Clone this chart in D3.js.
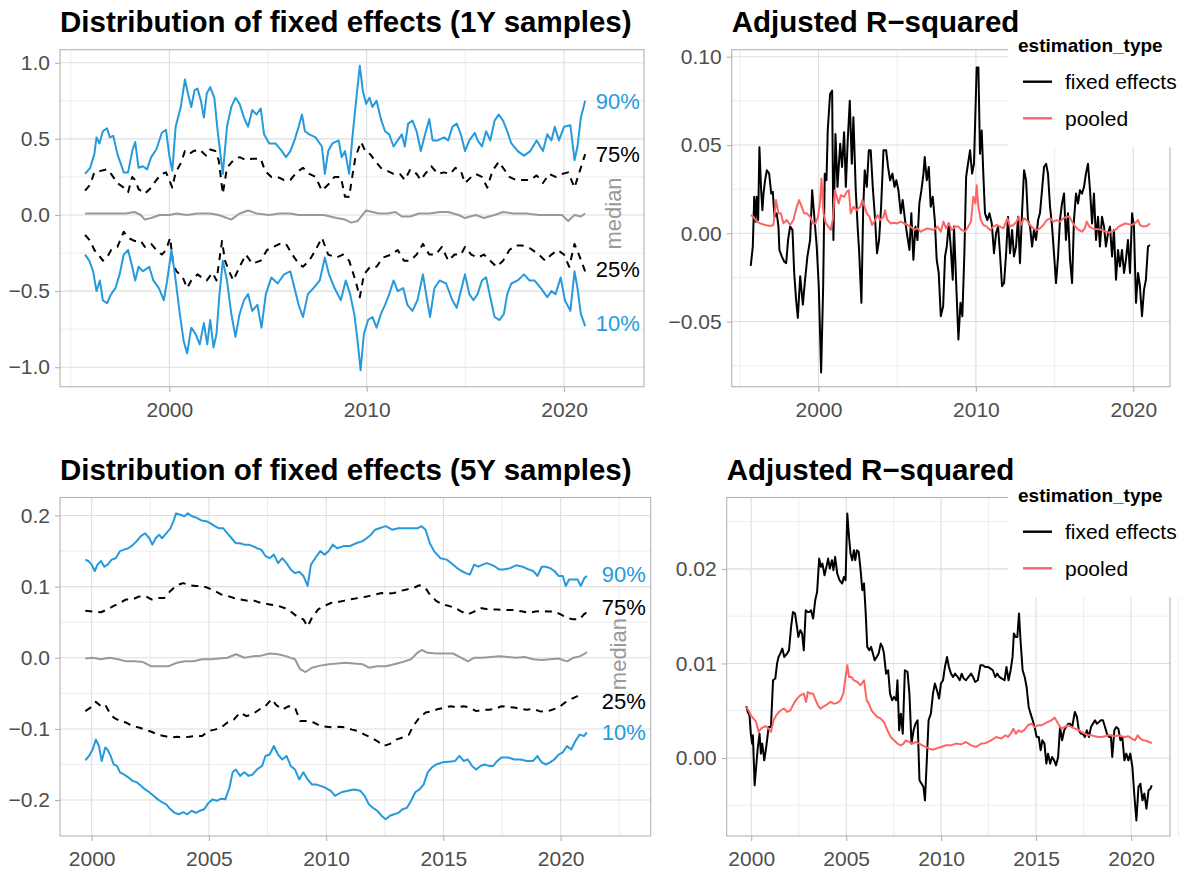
<!DOCTYPE html>
<html>
<head>
<meta charset="utf-8">
<script src="https://cdn.jsdelivr.net/npm/d3@7"></script>
<style>
  html, body { margin: 0; padding: 0; background: #ffffff; overflow: hidden; }
</style>
</head>
<body>
<script>
// ---------------- DATA ----------------
// Panel A: distribution of fixed effects, 1Y samples  [decimal year, value]
const fe1y_q90 = [[1995.73,0.27],[1995.99,0.31],[1996.20,0.40],[1996.31,0.51],[1996.46,0.47],[1996.63,0.55],[1996.84,0.57],[1996.99,0.51],[1997.16,0.52],[1997.37,0.40],[1997.69,0.28],[1997.91,0.28],[1998.12,0.42],[1998.27,0.48],[1998.44,0.31],[1998.66,0.32],[1998.87,0.30],[1999.08,0.38],[1999.34,0.43],[1999.62,0.54],[1999.83,0.56],[2000.00,0.39],[2000.15,0.29],[2000.32,0.58],[2000.58,0.71],[2000.79,0.89],[2000.94,0.80],[2001.11,0.71],[2001.28,0.82],[2001.43,0.83],[2001.60,0.75],[2001.75,0.64],[2001.90,0.80],[2002.07,0.84],[2002.28,0.77],[2002.45,0.55],[2002.71,0.27],[2002.92,0.58],[2003.14,0.71],[2003.35,0.77],[2003.56,0.73],[2003.78,0.64],[2003.99,0.58],[2004.20,0.69],[2004.42,0.66],[2004.63,0.70],[2004.80,0.53],[2005.06,0.47],[2005.38,0.47],[2005.70,0.42],[2005.91,0.38],[2006.13,0.42],[2006.34,0.49],[2006.55,0.58],[2006.72,0.66],[2006.87,0.55],[2007.09,0.53],[2007.41,0.51],[2007.73,0.45],[2007.88,0.27],[2008.05,0.42],[2008.26,0.47],[2008.58,0.49],[2008.73,0.38],[2008.90,0.42],[2009.11,0.27],[2009.29,0.53],[2009.43,0.71],[2009.65,0.98],[2009.80,0.82],[2009.97,0.73],[2010.14,0.77],[2010.29,0.71],[2010.50,0.75],[2010.72,0.63],[2010.93,0.55],[2011.14,0.53],[2011.36,0.45],[2011.57,0.49],[2011.78,0.53],[2011.93,0.45],[2012.10,0.60],[2012.32,0.62],[2012.53,0.55],[2012.74,0.42],[2012.96,0.53],[2013.17,0.63],[2013.34,0.49],[2013.60,0.49],[2013.92,0.51],[2014.13,0.49],[2014.34,0.58],[2014.56,0.60],[2014.77,0.53],[2014.98,0.42],[2015.20,0.49],[2015.48,0.54],[2015.62,0.49],[2015.84,0.45],[2016.05,0.55],[2016.26,0.49],[2016.48,0.62],[2016.69,0.66],[2016.91,0.62],[2017.12,0.55],[2017.33,0.47],[2017.65,0.42],[2017.97,0.39],[2018.29,0.42],[2018.61,0.49],[2018.93,0.42],[2019.15,0.53],[2019.36,0.49],[2019.53,0.58],[2019.74,0.49],[2020.00,0.58],[2020.32,0.59],[2020.53,0.36],[2020.68,0.45],[2020.85,0.64],[2021.07,0.75]];
const fe1y_q75 = [[1995.73,0.16],[1995.99,0.20],[1996.20,0.28],[1996.52,0.29],[1996.84,0.30],[1997.05,0.27],[1997.37,0.21],[1997.69,0.18],[1997.91,0.15],[1998.12,0.25],[1998.27,0.23],[1998.44,0.17],[1998.76,0.14],[1999.08,0.18],[1999.34,0.23],[1999.62,0.27],[1999.83,0.28],[2000.00,0.23],[2000.15,0.18],[2000.32,0.28],[2000.58,0.34],[2000.79,0.42],[2001.00,0.40],[2001.22,0.42],[2001.54,0.43],[2001.86,0.39],[2002.07,0.43],[2002.33,0.42],[2002.50,0.36],[2002.71,0.14],[2002.92,0.31],[2003.24,0.36],[2003.56,0.38],[2003.88,0.36],[2004.20,0.37],[2004.63,0.37],[2004.85,0.29],[2005.17,0.25],[2005.49,0.25],[2005.81,0.23],[2006.13,0.23],[2006.45,0.28],[2006.77,0.31],[2007.09,0.27],[2007.41,0.25],[2007.73,0.16],[2008.05,0.20],[2008.37,0.25],[2008.69,0.25],[2008.90,0.12],[2009.11,0.12],[2009.29,0.27],[2009.43,0.38],[2009.71,0.48],[2009.97,0.41],[2010.18,0.40],[2010.40,0.36],[2010.72,0.31],[2011.04,0.29],[2011.36,0.27],[2011.68,0.27],[2011.93,0.23],[2012.21,0.30],[2012.53,0.27],[2012.74,0.23],[2012.96,0.27],[2013.28,0.32],[2013.60,0.27],[2013.92,0.28],[2014.24,0.27],[2014.49,0.31],[2014.77,0.29],[2014.98,0.21],[2015.30,0.25],[2015.52,0.27],[2015.84,0.25],[2016.11,0.18],[2016.37,0.29],[2016.69,0.35],[2016.91,0.31],[2017.23,0.25],[2017.55,0.23],[2017.97,0.23],[2018.29,0.23],[2018.61,0.26],[2018.93,0.21],[2019.25,0.27],[2019.57,0.25],[2019.89,0.27],[2020.21,0.28],[2020.53,0.18],[2020.75,0.27],[2021.07,0.40]];
const fe1y_med = [[1995.73,0.01],[1996.31,0.01],[1996.95,0.01],[1997.37,0.01],[1997.80,0.01],[1998.23,0.02],[1998.55,0.00],[1998.76,-0.03],[1999.08,-0.02],[1999.51,0.00],[2000.00,0.00],[2000.36,0.01],[2000.90,0.00],[2001.43,0.01],[2002.07,0.01],[2002.50,0.00],[2003.14,-0.03],[2003.56,0.01],[2003.99,0.03],[2004.42,0.01],[2005.06,0.00],[2005.59,0.01],[2006.13,0.01],[2006.55,0.00],[2007.19,0.00],[2007.83,0.00],[2008.47,-0.02],[2008.90,-0.03],[2009.22,-0.05],[2009.54,-0.04],[2009.97,0.03],[2010.29,0.02],[2010.61,0.01],[2011.04,0.01],[2011.46,0.02],[2011.78,-0.01],[2012.21,-0.01],[2012.64,0.01],[2013.17,0.01],[2013.70,0.02],[2014.13,0.02],[2014.66,0.00],[2014.98,-0.02],[2015.52,0.00],[2015.94,-0.02],[2016.48,0.00],[2016.91,0.02],[2017.44,0.01],[2018.08,0.01],[2018.72,0.00],[2019.36,0.00],[2019.89,0.00],[2020.21,-0.04],[2020.53,0.00],[2020.85,-0.01],[2021.07,0.01]];
const fe1y_q25 = [[1995.73,-0.13],[1995.99,-0.17],[1996.20,-0.23],[1996.41,-0.26],[1996.63,-0.30],[1996.84,-0.28],[1997.05,-0.23],[1997.37,-0.21],[1997.69,-0.11],[1997.91,-0.15],[1998.23,-0.17],[1998.55,-0.17],[1998.76,-0.21],[1999.08,-0.19],[1999.34,-0.23],[1999.62,-0.26],[1999.83,-0.23],[2000.04,-0.15],[2000.19,-0.32],[2000.36,-0.37],[2000.68,-0.41],[2000.90,-0.48],[2001.11,-0.43],[2001.43,-0.39],[2001.64,-0.41],[2001.90,-0.43],[2002.18,-0.38],[2002.39,-0.43],[2002.67,-0.17],[2002.82,-0.30],[2003.03,-0.37],[2003.24,-0.43],[2003.56,-0.34],[2003.88,-0.26],[2004.20,-0.32],[2004.63,-0.30],[2004.95,-0.23],[2005.27,-0.21],[2005.59,-0.19],[2005.91,-0.19],[2006.23,-0.26],[2006.55,-0.32],[2006.77,-0.34],[2007.09,-0.30],[2007.41,-0.23],[2007.73,-0.15],[2008.05,-0.26],[2008.47,-0.28],[2008.79,-0.26],[2009.11,-0.30],[2009.43,-0.43],[2009.65,-0.54],[2009.86,-0.39],[2010.18,-0.34],[2010.50,-0.34],[2010.82,-0.28],[2011.25,-0.26],[2011.57,-0.23],[2011.89,-0.30],[2012.21,-0.30],[2012.53,-0.26],[2012.85,-0.19],[2013.17,-0.26],[2013.49,-0.26],[2013.81,-0.21],[2014.13,-0.30],[2014.45,-0.26],[2014.77,-0.26],[2014.98,-0.21],[2015.30,-0.26],[2015.62,-0.28],[2015.94,-0.26],[2016.26,-0.30],[2016.58,-0.34],[2016.91,-0.30],[2017.23,-0.23],[2017.55,-0.20],[2017.87,-0.20],[2018.29,-0.22],[2018.72,-0.26],[2019.04,-0.30],[2019.36,-0.26],[2019.68,-0.23],[2020.00,-0.26],[2020.26,-0.34],[2020.53,-0.19],[2020.75,-0.26],[2021.07,-0.37]];
const fe1y_q10 = [[1995.73,-0.26],[1995.94,-0.30],[1996.14,-0.37],[1996.31,-0.50],[1996.48,-0.43],[1996.63,-0.56],[1996.84,-0.58],[1997.05,-0.52],[1997.27,-0.48],[1997.48,-0.39],[1997.69,-0.26],[1997.91,-0.23],[1998.12,-0.34],[1998.27,-0.43],[1998.44,-0.34],[1998.66,-0.37],[1998.98,-0.34],[1999.19,-0.43],[1999.47,-0.48],[1999.72,-0.56],[1999.89,-0.43],[2000.11,-0.23],[2000.32,-0.43],[2000.53,-0.65],[2000.73,-0.83],[2000.90,-0.91],[2001.11,-0.74],[2001.32,-0.78],[2001.54,-0.85],[2001.75,-0.71],[2001.92,-0.85],[2002.07,-0.69],[2002.24,-0.87],[2002.39,-0.78],[2002.54,-0.52],[2002.71,-0.30],[2002.92,-0.43],[2003.14,-0.65],[2003.35,-0.80],[2003.56,-0.65],[2003.78,-0.56],[2003.99,-0.52],[2004.20,-0.63],[2004.46,-0.59],[2004.67,-0.74],[2004.89,-0.52],[2005.17,-0.41],[2005.49,-0.45],[2005.81,-0.39],[2006.13,-0.37],[2006.34,-0.48],[2006.55,-0.59],[2006.77,-0.67],[2007.02,-0.52],[2007.30,-0.48],[2007.62,-0.43],[2007.88,-0.28],[2008.09,-0.39],[2008.37,-0.48],[2008.69,-0.56],[2008.94,-0.43],[2009.16,-0.52],[2009.37,-0.65],[2009.54,-0.83],[2009.69,-1.02],[2009.86,-0.78],[2010.07,-0.69],[2010.29,-0.67],[2010.50,-0.74],[2010.72,-0.65],[2010.93,-0.59],[2011.14,-0.52],[2011.36,-0.43],[2011.57,-0.50],[2011.85,-0.48],[2012.06,-0.59],[2012.32,-0.63],[2012.57,-0.56],[2012.85,-0.39],[2013.06,-0.56],[2013.21,-0.67],[2013.43,-0.48],[2013.70,-0.43],[2014.02,-0.45],[2014.34,-0.56],[2014.56,-0.61],[2014.77,-0.50],[2014.98,-0.39],[2015.20,-0.52],[2015.41,-0.56],[2015.62,-0.52],[2015.84,-0.43],[2016.05,-0.41],[2016.26,-0.54],[2016.48,-0.67],[2016.73,-0.69],[2016.95,-0.65],[2017.12,-0.52],[2017.33,-0.45],[2017.65,-0.43],[2017.97,-0.39],[2018.25,-0.43],[2018.50,-0.43],[2018.82,-0.48],[2019.15,-0.54],[2019.36,-0.50],[2019.57,-0.52],[2019.83,-0.41],[2020.04,-0.56],[2020.32,-0.63],[2020.53,-0.37],[2020.68,-0.48],[2020.85,-0.65],[2021.07,-0.73]];

// Panel B: adjusted R-squared, 1Y samples
const r2_1y_fixed = [[1995.70,-0.0184],[1995.83,-0.0075],[1995.92,0.0207],[1996.00,0.0066],[1996.08,0.0207],[1996.17,0.0075],[1996.25,0.0488],[1996.36,0.0244],[1996.44,0.0131],[1996.51,0.0225],[1996.61,0.0300],[1996.72,0.0357],[1996.87,0.0338],[1997.00,0.0225],[1997.10,0.0235],[1997.21,0.0094],[1997.35,0.0113],[1997.46,0.0038],[1997.52,-0.0094],[1997.67,-0.0131],[1997.82,-0.0160],[1997.95,-0.0169],[1998.07,-0.0038],[1998.20,0.0038],[1998.35,0.0019],[1998.46,-0.0225],[1998.58,-0.0376],[1998.69,-0.0479],[1998.84,-0.0244],[1999.01,-0.0404],[1999.15,-0.0263],[1999.30,-0.0131],[1999.47,-0.0038],[1999.60,0.0244],[1999.72,0.0113],[1999.89,-0.0075],[2000.02,-0.0300],[2000.17,-0.0789],[2000.30,-0.0300],[2000.40,0.0338],[2000.51,0.0300],[2000.59,0.0582],[2000.74,0.0789],[2000.87,0.0808],[2000.95,-0.0038],[2001.08,0.0563],[2001.21,0.0263],[2001.38,0.0507],[2001.50,0.0376],[2001.63,0.0573],[2001.74,0.0263],[2001.86,0.0526],[2001.99,0.0751],[2002.12,0.0394],[2002.22,0.0657],[2002.37,0.0244],[2002.50,0.0019],[2002.58,-0.0094],[2002.73,-0.0394],[2002.84,0.0131],[2002.94,0.0357],[2003.07,0.0263],[2003.20,0.0470],[2003.32,0.0470],[2003.45,0.0263],[2003.60,0.0075],[2003.72,-0.0113],[2003.85,-0.0038],[2003.98,0.0150],[2004.13,0.0470],[2004.30,0.0470],[2004.42,0.0376],[2004.55,0.0300],[2004.70,0.0338],[2004.83,0.0263],[2004.95,0.0300],[2005.08,0.0244],[2005.23,0.0113],[2005.35,0.0188],[2005.50,0.0075],[2005.65,-0.0019],[2005.78,-0.0094],[2005.90,0.0113],[2006.03,-0.0150],[2006.16,0.0038],[2006.29,-0.0038],[2006.41,0.0169],[2006.54,0.0244],[2006.67,0.0338],[2006.75,0.0432],[2006.88,0.0300],[2007.01,0.0376],[2007.13,0.0150],[2007.26,0.0207],[2007.39,0.0075],[2007.51,-0.0150],[2007.64,-0.0225],[2007.77,-0.0470],[2007.92,-0.0413],[2008.04,-0.0131],[2008.15,-0.0075],[2008.28,0.0056],[2008.40,-0.0075],[2008.53,-0.0263],[2008.61,0.0038],[2008.74,-0.0263],[2008.89,-0.0601],[2009.02,-0.0394],[2009.14,-0.0470],[2009.27,-0.0113],[2009.38,0.0319],[2009.50,0.0394],[2009.63,0.0470],[2009.76,0.0338],[2009.88,0.0394],[2010.05,0.0939],[2010.16,0.0939],[2010.26,0.0451],[2010.37,0.0582],[2010.48,0.0319],[2010.58,0.0113],[2010.73,0.0075],[2010.86,0.0113],[2011.01,0.0056],[2011.15,-0.0113],[2011.28,0.0000],[2011.41,0.0038],[2011.53,-0.0113],[2011.66,-0.0300],[2011.79,-0.0282],[2011.92,-0.0113],[2012.04,0.0094],[2012.17,-0.0113],[2012.30,0.0019],[2012.42,-0.0131],[2012.55,-0.0075],[2012.68,0.0094],[2012.80,-0.0169],[2012.93,0.0113],[2013.06,0.0357],[2013.19,0.0300],[2013.31,0.0075],[2013.44,0.0038],[2013.57,-0.0075],[2013.69,0.0019],[2013.82,-0.0038],[2013.95,0.0075],[2014.07,0.0113],[2014.20,0.0244],[2014.33,0.0376],[2014.46,0.0394],[2014.58,0.0338],[2014.71,0.0150],[2014.84,0.0038],[2014.96,-0.0113],[2015.09,-0.0282],[2015.22,-0.0131],[2015.34,0.0075],[2015.47,0.0169],[2015.60,0.0225],[2015.72,-0.0038],[2015.85,0.0113],[2015.98,-0.0150],[2016.11,-0.0282],[2016.23,0.0075],[2016.36,0.0225],[2016.49,0.0169],[2016.61,0.0244],[2016.74,0.0225],[2016.87,0.0263],[2016.99,0.0338],[2017.12,0.0394],[2017.25,0.0244],[2017.38,0.0056],[2017.50,0.0225],[2017.63,-0.0038],[2017.76,0.0094],[2017.88,-0.0075],[2018.01,0.0094],[2018.14,0.0038],[2018.26,-0.0075],[2018.39,0.0000],[2018.52,0.0038],[2018.65,-0.0131],[2018.77,0.0019],[2018.90,-0.0263],[2019.03,-0.0094],[2019.15,-0.0188],[2019.28,-0.0094],[2019.41,-0.0225],[2019.53,-0.0150],[2019.66,-0.0038],[2019.79,-0.0225],[2019.92,0.0113],[2020.04,0.0038],[2020.17,-0.0394],[2020.30,-0.0225],[2020.42,-0.0300],[2020.55,-0.0470],[2020.68,-0.0319],[2020.80,-0.0263],[2020.93,-0.0075],[2021.06,-0.0066]];
const r2_1y_pooled = [[1995.70,0.0103],[1995.87,0.0094],[1996.08,0.0066],[1996.30,0.0056],[1996.61,0.0047],[1996.93,0.0041],[1997.14,0.0047],[1997.31,0.0188],[1997.46,0.0113],[1997.61,0.0113],[1997.78,0.0056],[1997.99,0.0075],[1998.20,0.0047],[1998.41,0.0075],[1998.62,0.0150],[1998.77,0.0188],[1998.94,0.0150],[1999.09,0.0113],[1999.26,0.0113],[1999.47,0.0094],[1999.64,0.0056],[1999.81,0.0056],[1999.98,0.0094],[2000.11,0.0188],[2000.19,0.0310],[2000.32,0.0113],[2000.47,0.0056],[2000.63,0.0038],[2000.78,0.0019],[2000.91,0.0075],[2001.04,0.0244],[2001.16,0.0207],[2001.29,0.0169],[2001.42,0.0216],[2001.63,0.0207],[2001.80,0.0235],[2001.93,0.0244],[2002.05,0.0113],[2002.22,0.0150],[2002.43,0.0131],[2002.65,0.0150],[2002.79,0.0188],[2002.94,0.0150],[2003.07,0.0113],[2003.24,0.0094],[2003.41,0.0047],[2003.60,0.0075],[2003.75,0.0103],[2003.92,0.0075],[2004.13,0.0094],[2004.23,0.0131],[2004.38,0.0075],[2004.59,0.0056],[2004.80,0.0060],[2005.02,0.0056],[2005.23,0.0066],[2005.44,0.0056],[2005.65,0.0047],[2005.86,0.0038],[2006.07,0.0019],[2006.29,0.0028],[2006.50,0.0009],[2006.71,0.0019],[2006.92,0.0028],[2007.13,0.0023],[2007.34,0.0019],[2007.56,0.0038],[2007.77,0.0009],[2007.94,0.0066],[2008.11,0.0028],[2008.28,0.0056],[2008.47,0.0019],[2008.68,0.0038],[2008.89,0.0038],[2009.10,0.0019],[2009.31,0.0009],[2009.52,0.0038],[2009.69,0.0066],[2009.84,0.0207],[2009.97,0.0169],[2010.05,0.0272],[2010.16,0.0150],[2010.31,0.0075],[2010.48,0.0047],[2010.69,0.0038],[2010.90,0.0019],[2011.11,0.0038],[2011.32,0.0047],[2011.53,0.0038],[2011.75,0.0028],[2012.00,0.0085],[2012.17,0.0038],[2012.38,0.0047],[2012.59,0.0066],[2012.72,0.0094],[2012.85,0.0047],[2013.06,0.0085],[2013.23,0.0075],[2013.44,0.0047],[2013.65,0.0028],[2013.86,0.0019],[2014.07,0.0028],[2014.29,0.0047],[2014.50,0.0075],[2014.71,0.0085],[2014.92,0.0066],[2015.13,0.0075],[2015.34,0.0066],[2015.56,0.0085],[2015.77,0.0094],[2015.94,0.0094],[2016.11,0.0066],[2016.32,0.0038],[2016.53,0.0019],[2016.74,0.0009],[2016.91,0.0028],[2017.04,0.0066],[2017.21,0.0038],[2017.38,0.0028],[2017.59,0.0023],[2017.80,0.0023],[2018.01,0.0019],[2018.22,0.0009],[2018.43,0.0004],[2018.65,0.0009],[2018.86,0.0019],[2019.07,0.0038],[2019.28,0.0047],[2019.49,0.0056],[2019.70,0.0052],[2019.92,0.0047],[2020.13,0.0060],[2020.30,0.0075],[2020.42,0.0047],[2020.63,0.0038],[2020.85,0.0041],[2021.06,0.0056]];

// Panel C: distribution of fixed effects, 5Y samples
const fe5y_q90 = [[1999.73,0.138],[1999.86,0.136],[2000.00,0.131],[2000.13,0.122],[2000.25,0.131],[2000.40,0.136],[2000.54,0.128],[2000.68,0.131],[2000.85,0.138],[2001.03,0.140],[2001.21,0.150],[2001.38,0.152],[2001.56,0.154],[2001.74,0.158],[2001.92,0.164],[2002.10,0.171],[2002.28,0.175],[2002.46,0.168],[2002.59,0.159],[2002.73,0.168],[2002.88,0.173],[2003.00,0.168],[2003.18,0.175],[2003.36,0.182],[2003.49,0.192],[2003.60,0.203],[2003.78,0.201],[2003.96,0.199],[2004.10,0.203],[2004.28,0.199],[2004.46,0.197],[2004.68,0.193],[2004.89,0.192],[2005.07,0.189],[2005.25,0.185],[2005.43,0.182],[2005.61,0.182],[2005.79,0.175],[2005.97,0.168],[2006.15,0.161],[2006.33,0.161],[2006.51,0.159],[2006.69,0.159],[2006.87,0.157],[2007.05,0.154],[2007.23,0.152],[2007.41,0.143],[2007.59,0.140],[2007.77,0.145],[2007.95,0.133],[2008.13,0.140],[2008.31,0.133],[2008.49,0.124],[2008.67,0.119],[2008.85,0.121],[2009.03,0.115],[2009.21,0.101],[2009.35,0.131],[2009.53,0.140],[2009.75,0.150],[2009.93,0.145],[2010.11,0.150],[2010.29,0.159],[2010.47,0.154],[2010.74,0.157],[2011.01,0.157],[2011.28,0.161],[2011.55,0.164],[2011.73,0.168],[2011.91,0.173],[2012.09,0.180],[2012.27,0.182],[2012.54,0.185],[2012.81,0.180],[2013.08,0.182],[2013.35,0.182],[2013.62,0.182],[2013.89,0.182],[2014.07,0.185],[2014.24,0.180],[2014.42,0.161],[2014.60,0.150],[2014.87,0.140],[2015.14,0.138],[2015.41,0.131],[2015.59,0.126],[2015.77,0.122],[2015.95,0.119],[2016.13,0.117],[2016.31,0.131],[2016.49,0.128],[2016.67,0.131],[2016.85,0.133],[2017.03,0.131],[2017.21,0.128],[2017.39,0.124],[2017.57,0.124],[2017.84,0.126],[2018.11,0.130],[2018.38,0.128],[2018.65,0.124],[2018.83,0.122],[2019.01,0.115],[2019.19,0.128],[2019.37,0.128],[2019.55,0.126],[2019.73,0.122],[2019.91,0.115],[2020.09,0.115],[2020.22,0.101],[2020.36,0.110],[2020.54,0.110],[2020.72,0.110],[2020.86,0.101],[2021.01,0.112],[2021.12,0.115]];
const fe5y_q75 = [[1999.73,0.066],[2000.04,0.065],[2000.40,0.064],[2000.67,0.068],[2000.94,0.073],[2001.21,0.077],[2001.47,0.082],[2001.74,0.082],[2002.01,0.086],[2002.28,0.087],[2002.55,0.082],[2002.82,0.084],[2003.09,0.084],[2003.36,0.094],[2003.63,0.102],[2003.90,0.105],[2004.17,0.102],[2004.44,0.101],[2004.71,0.101],[2004.98,0.098],[2005.25,0.094],[2005.52,0.089],[2005.79,0.087],[2006.06,0.084],[2006.33,0.082],[2006.69,0.080],[2006.96,0.080],[2007.23,0.077],[2007.59,0.075],[2007.95,0.073],[2008.22,0.070],[2008.49,0.065],[2008.76,0.058],[2009.03,0.054],[2009.21,0.044],[2009.39,0.056],[2009.66,0.068],[2009.93,0.073],[2010.20,0.077],[2010.47,0.078],[2010.74,0.080],[2011.01,0.082],[2011.37,0.084],[2011.73,0.086],[2012.09,0.089],[2012.36,0.091],[2012.63,0.090],[2012.90,0.091],[2013.17,0.094],[2013.44,0.096],[2013.71,0.098],[2013.98,0.102],[2014.24,0.098],[2014.42,0.089],[2014.69,0.080],[2014.96,0.075],[2015.23,0.073],[2015.50,0.070],[2015.77,0.065],[2016.04,0.061],[2016.31,0.065],[2016.58,0.070],[2016.94,0.068],[2017.30,0.068],[2017.66,0.067],[2018.02,0.067],[2018.38,0.065],[2018.65,0.063],[2018.92,0.065],[2019.19,0.066],[2019.46,0.065],[2019.73,0.065],[2020.00,0.061],[2020.27,0.056],[2020.54,0.054],[2020.81,0.054],[2020.99,0.061],[2021.12,0.064]];
const fe5y_med = [[1999.73,-0.001],[2000.04,0.000],[2000.40,-0.002],[2000.76,0.000],[2001.12,-0.002],[2001.47,-0.005],[2001.83,-0.005],[2002.19,-0.006],[2002.55,-0.012],[2002.91,-0.012],[2003.27,-0.012],[2003.63,-0.007],[2003.99,-0.005],[2004.35,-0.005],[2004.71,-0.002],[2005.07,-0.002],[2005.43,-0.001],[2005.79,0.000],[2006.15,0.005],[2006.51,0.000],[2006.87,0.002],[2007.23,0.003],[2007.59,0.006],[2007.95,0.005],[2008.31,0.002],[2008.67,-0.002],[2008.89,-0.016],[2009.12,-0.020],[2009.39,-0.014],[2009.75,-0.011],[2010.11,-0.009],[2010.47,-0.008],[2010.83,-0.007],[2011.19,-0.008],[2011.55,-0.009],[2011.82,-0.014],[2012.18,-0.012],[2012.54,-0.012],[2012.90,-0.009],[2013.26,-0.006],[2013.62,-0.002],[2013.89,0.007],[2014.07,0.011],[2014.33,0.007],[2014.69,0.006],[2015.05,0.006],[2015.41,0.006],[2015.77,0.000],[2016.04,-0.005],[2016.31,0.000],[2016.67,0.000],[2017.03,0.001],[2017.39,0.002],[2017.75,0.001],[2018.11,0.000],[2018.47,0.001],[2018.83,-0.002],[2019.19,-0.003],[2019.55,-0.002],[2019.91,-0.001],[2020.27,-0.005],[2020.54,0.000],[2020.81,0.002],[2020.99,0.005],[2021.12,0.008]];
const fe5y_q25 = [[1999.73,-0.075],[1999.95,-0.070],[2000.18,-0.062],[2000.40,-0.068],[2000.58,-0.066],[2000.76,-0.077],[2000.94,-0.084],[2001.21,-0.089],[2001.47,-0.091],[2001.74,-0.096],[2002.01,-0.098],[2002.28,-0.101],[2002.55,-0.104],[2002.82,-0.108],[2003.09,-0.110],[2003.36,-0.112],[2003.63,-0.111],[2003.90,-0.112],[2004.17,-0.111],[2004.44,-0.110],[2004.71,-0.110],[2004.98,-0.103],[2005.25,-0.101],[2005.52,-0.098],[2005.79,-0.091],[2006.06,-0.087],[2006.33,-0.077],[2006.60,-0.082],[2006.87,-0.079],[2007.14,-0.073],[2007.41,-0.068],[2007.68,-0.058],[2007.86,-0.066],[2008.13,-0.073],[2008.40,-0.068],[2008.67,-0.070],[2008.89,-0.089],[2009.21,-0.089],[2009.48,-0.091],[2009.75,-0.096],[2010.02,-0.097],[2010.29,-0.098],[2010.56,-0.097],[2010.83,-0.098],[2011.10,-0.101],[2011.37,-0.103],[2011.64,-0.108],[2011.91,-0.112],[2012.18,-0.117],[2012.45,-0.124],[2012.72,-0.121],[2012.99,-0.115],[2013.26,-0.112],[2013.53,-0.108],[2013.71,-0.096],[2013.98,-0.084],[2014.24,-0.077],[2014.51,-0.075],[2014.78,-0.072],[2015.05,-0.070],[2015.32,-0.068],[2015.59,-0.070],[2015.86,-0.068],[2016.13,-0.070],[2016.40,-0.075],[2016.67,-0.073],[2016.94,-0.073],[2017.21,-0.072],[2017.48,-0.068],[2017.75,-0.069],[2018.02,-0.070],[2018.29,-0.072],[2018.56,-0.073],[2018.83,-0.072],[2019.10,-0.075],[2019.37,-0.076],[2019.64,-0.073],[2019.91,-0.070],[2020.18,-0.063],[2020.45,-0.058],[2020.72,-0.054],[2020.90,-0.051]];
const fe5y_q10 = [[1999.73,-0.144],[1999.89,-0.138],[2000.04,-0.129],[2000.18,-0.115],[2000.31,-0.124],[2000.43,-0.145],[2000.58,-0.126],[2000.68,-0.129],[2000.81,-0.138],[2000.94,-0.150],[2001.08,-0.152],[2001.21,-0.161],[2001.38,-0.164],[2001.56,-0.168],[2001.74,-0.173],[2001.92,-0.175],[2002.10,-0.180],[2002.28,-0.185],[2002.46,-0.189],[2002.64,-0.194],[2002.82,-0.199],[2003.00,-0.203],[2003.18,-0.206],[2003.36,-0.213],[2003.54,-0.218],[2003.72,-0.220],[2003.90,-0.217],[2004.08,-0.220],[2004.26,-0.215],[2004.44,-0.218],[2004.62,-0.215],[2004.80,-0.213],[2004.98,-0.204],[2005.16,-0.199],[2005.34,-0.201],[2005.52,-0.198],[2005.70,-0.199],[2005.88,-0.182],[2006.01,-0.161],[2006.15,-0.157],[2006.33,-0.166],[2006.51,-0.161],[2006.69,-0.166],[2006.87,-0.164],[2007.05,-0.157],[2007.27,-0.152],[2007.41,-0.138],[2007.59,-0.136],[2007.77,-0.124],[2007.95,-0.136],[2008.13,-0.143],[2008.31,-0.138],[2008.49,-0.152],[2008.67,-0.157],[2008.85,-0.171],[2009.03,-0.161],[2009.21,-0.171],[2009.39,-0.178],[2009.57,-0.178],[2009.75,-0.180],[2009.93,-0.182],[2010.20,-0.187],[2010.38,-0.194],[2010.65,-0.189],[2010.92,-0.187],[2011.19,-0.185],[2011.46,-0.187],[2011.64,-0.194],[2011.82,-0.206],[2012.00,-0.211],[2012.18,-0.215],[2012.36,-0.222],[2012.54,-0.227],[2012.72,-0.222],[2012.90,-0.220],[2013.08,-0.218],[2013.26,-0.213],[2013.44,-0.211],[2013.62,-0.201],[2013.80,-0.189],[2013.98,-0.185],[2014.16,-0.178],[2014.33,-0.161],[2014.51,-0.154],[2014.69,-0.150],[2014.96,-0.147],[2015.23,-0.146],[2015.50,-0.145],[2015.68,-0.138],[2015.86,-0.145],[2016.04,-0.143],[2016.22,-0.152],[2016.40,-0.157],[2016.58,-0.152],[2016.76,-0.150],[2016.94,-0.152],[2017.12,-0.152],[2017.30,-0.145],[2017.48,-0.140],[2017.75,-0.140],[2018.02,-0.143],[2018.29,-0.143],[2018.56,-0.145],[2018.83,-0.145],[2019.01,-0.138],[2019.19,-0.147],[2019.37,-0.150],[2019.55,-0.147],[2019.73,-0.143],[2019.91,-0.136],[2020.09,-0.133],[2020.27,-0.124],[2020.45,-0.129],[2020.63,-0.117],[2020.81,-0.108],[2020.99,-0.110],[2021.12,-0.105]];

// Panel D: adjusted R-squared, 5Y samples
const r2_5y_fixed = [[1999.74,0.00547],[1999.82,0.00487],[1999.91,0.00451],[1999.98,0.00257],[2000.05,0.00152],[2000.09,0.00240],[2000.18,-0.00289],[2000.26,-0.00095],[2000.35,0.00116],[2000.44,0.00257],[2000.51,0.00046],[2000.58,0.00152],[2000.69,-0.00025],[2000.79,0.00116],[2000.92,0.00328],[2001.04,0.00328],[2001.15,0.00822],[2001.27,0.00840],[2001.36,0.00998],[2001.44,0.01069],[2001.53,0.01104],[2001.64,0.01157],[2001.74,0.01069],[2001.89,0.01104],[2001.99,0.01139],[2002.10,0.01386],[2002.20,0.01545],[2002.31,0.01527],[2002.41,0.01386],[2002.48,0.01280],[2002.59,0.01351],[2002.68,0.01316],[2002.77,0.01139],[2002.87,0.01563],[2002.98,0.01545],[2003.07,0.01545],[2003.15,0.01563],[2003.26,0.01474],[2003.37,0.01668],[2003.47,0.01757],[2003.58,0.02109],[2003.67,0.02021],[2003.75,0.02056],[2003.86,0.01933],[2003.96,0.02021],[2004.05,0.02109],[2004.14,0.02004],[2004.25,0.02092],[2004.33,0.01986],[2004.42,0.02127],[2004.53,0.01951],[2004.65,0.01880],[2004.79,0.01845],[2004.88,0.01915],[2004.97,0.01880],[2005.06,0.02586],[2005.15,0.02339],[2005.23,0.02162],[2005.32,0.02092],[2005.41,0.02198],[2005.48,0.02092],[2005.57,0.02198],[2005.66,0.02180],[2005.76,0.01986],[2005.85,0.01774],[2005.94,0.01845],[2006.03,0.01527],[2006.11,0.01175],[2006.22,0.01139],[2006.31,0.01175],[2006.41,0.01104],[2006.50,0.01034],[2006.61,0.01069],[2006.71,0.01104],[2006.82,0.01210],[2006.91,0.01175],[2006.99,0.01104],[2007.10,0.00892],[2007.21,0.00928],[2007.31,0.00681],[2007.42,0.00610],[2007.52,0.00646],[2007.63,0.00610],[2007.70,0.00822],[2007.79,0.00293],[2007.88,0.00469],[2007.98,0.00257],[2008.09,0.00928],[2008.23,0.00910],[2008.33,0.00681],[2008.44,0.00152],[2008.55,0.00293],[2008.65,0.00363],[2008.76,0.00399],[2008.86,-0.00236],[2008.97,-0.00272],[2009.07,-0.00307],[2009.15,-0.00448],[2009.23,-0.00095],[2009.34,0.00399],[2009.46,0.00469],[2009.57,0.00681],[2009.67,0.00787],[2009.78,0.00716],[2009.89,0.00628],[2009.99,0.00787],[2010.10,0.00822],[2010.20,0.00963],[2010.31,0.01069],[2010.41,0.00963],[2010.52,0.00892],[2010.63,0.00857],[2010.73,0.00892],[2010.87,0.00857],[2010.98,0.00822],[2011.08,0.00892],[2011.19,0.00840],[2011.31,0.00822],[2011.44,0.00857],[2011.58,0.00892],[2011.68,0.00857],[2011.79,0.00804],[2011.93,0.00822],[2012.07,0.00981],[2012.19,0.00981],[2012.32,0.00963],[2012.46,0.00963],[2012.60,0.00945],[2012.72,0.00928],[2012.85,0.00857],[2012.95,0.00892],[2013.07,0.00857],[2013.20,0.00840],[2013.34,0.00822],[2013.44,0.00963],[2013.55,0.00822],[2013.66,0.00928],[2013.76,0.01069],[2013.83,0.01316],[2013.92,0.01280],[2014.01,0.01280],[2014.10,0.01527],[2014.18,0.01245],[2014.29,0.00928],[2014.40,0.00857],[2014.50,0.00751],[2014.61,0.00540],[2014.71,0.00469],[2014.82,0.00399],[2014.92,0.00328],[2015.03,0.00222],[2015.14,0.00222],[2015.24,0.00081],[2015.33,0.00187],[2015.44,0.00152],[2015.54,-0.00060],[2015.63,0.00046],[2015.74,-0.00060],[2015.84,0.00011],[2015.95,-0.00025],[2016.05,-0.00078],[2016.16,0.00011],[2016.26,0.00328],[2016.37,0.00187],[2016.48,0.00293],[2016.58,0.00328],[2016.69,0.00363],[2016.79,0.00363],[2016.90,0.00328],[2017.04,0.00487],[2017.15,0.00434],[2017.25,0.00293],[2017.36,0.00257],[2017.46,0.00257],[2017.57,0.00222],[2017.67,0.00293],[2017.78,0.00222],[2017.89,0.00328],[2017.99,0.00363],[2018.10,0.00399],[2018.20,0.00363],[2018.31,0.00381],[2018.41,0.00399],[2018.52,0.00399],[2018.63,0.00328],[2018.73,0.00257],[2018.84,0.00222],[2018.94,0.00222],[2019.01,0.00011],[2019.12,0.00293],[2019.22,0.00328],[2019.33,0.00310],[2019.44,0.00187],[2019.54,0.00222],[2019.65,-0.00025],[2019.75,0.00046],[2019.86,-0.00025],[2019.96,0.00046],[2020.07,-0.00095],[2020.18,-0.00413],[2020.28,-0.00660],[2020.39,-0.00307],[2020.49,-0.00272],[2020.60,-0.00448],[2020.70,-0.00377],[2020.81,-0.00536],[2020.92,-0.00342],[2021.02,-0.00325],[2021.09,-0.00289]];
const r2_5y_pooled = [[1999.74,0.00540],[1999.86,0.00504],[1999.98,0.00451],[2000.12,0.00416],[2000.26,0.00381],[2000.39,0.00275],[2000.51,0.00310],[2000.65,0.00328],[2000.79,0.00335],[2000.92,0.00310],[2001.04,0.00275],[2001.18,0.00399],[2001.32,0.00451],[2001.46,0.00487],[2001.60,0.00511],[2001.74,0.00522],[2001.89,0.00487],[2002.06,0.00504],[2002.24,0.00575],[2002.41,0.00628],[2002.59,0.00663],[2002.77,0.00681],[2002.89,0.00593],[2002.98,0.00698],[2003.12,0.00681],[2003.26,0.00681],[2003.40,0.00610],[2003.51,0.00557],[2003.65,0.00522],[2003.82,0.00547],[2004.00,0.00568],[2004.18,0.00593],[2004.35,0.00575],[2004.53,0.00582],[2004.70,0.00610],[2004.85,0.00681],[2004.97,0.00857],[2005.06,0.00981],[2005.15,0.00857],[2005.27,0.00857],[2005.41,0.00822],[2005.59,0.00804],[2005.76,0.00769],[2005.94,0.00822],[2006.08,0.00610],[2006.20,0.00575],[2006.33,0.00504],[2006.47,0.00469],[2006.64,0.00434],[2006.82,0.00416],[2006.99,0.00381],[2007.17,0.00293],[2007.35,0.00222],[2007.52,0.00187],[2007.70,0.00152],[2007.88,0.00134],[2008.02,0.00152],[2008.14,0.00187],[2008.32,0.00169],[2008.49,0.00152],[2008.67,0.00169],[2008.85,0.00152],[2009.02,0.00134],[2009.20,0.00116],[2009.37,0.00099],[2009.55,0.00088],[2009.73,0.00099],[2009.99,0.00116],[2010.26,0.00134],[2010.52,0.00134],[2010.78,0.00152],[2011.05,0.00145],[2011.31,0.00169],[2011.58,0.00134],[2011.84,0.00116],[2012.11,0.00152],[2012.37,0.00159],[2012.63,0.00187],[2012.90,0.00222],[2013.16,0.00205],[2013.39,0.00240],[2013.52,0.00222],[2013.66,0.00257],[2013.80,0.00310],[2013.94,0.00257],[2014.08,0.00293],[2014.22,0.00275],[2014.40,0.00300],[2014.57,0.00346],[2014.75,0.00363],[2014.92,0.00328],[2015.10,0.00346],[2015.28,0.00346],[2015.45,0.00363],[2015.63,0.00381],[2015.81,0.00399],[2015.98,0.00427],[2016.16,0.00363],[2016.33,0.00310],[2016.51,0.00328],[2016.69,0.00346],[2016.86,0.00328],[2017.04,0.00310],[2017.22,0.00300],[2017.39,0.00275],[2017.57,0.00257],[2017.74,0.00240],[2017.92,0.00240],[2018.10,0.00229],[2018.27,0.00222],[2018.45,0.00222],[2018.63,0.00229],[2018.80,0.00240],[2018.98,0.00240],[2019.15,0.00229],[2019.33,0.00240],[2019.51,0.00229],[2019.68,0.00222],[2019.86,0.00229],[2020.04,0.00205],[2020.21,0.00187],[2020.35,0.00240],[2020.49,0.00205],[2020.65,0.00187],[2020.83,0.00180],[2020.95,0.00169],[2021.09,0.00159]];

// Tick values / labels
const ticksYearsA = [2000, 2010, 2020];
const minorYearsA = [1995, 2005, 2015];
const ticksYearsC = [2000, 2005, 2010, 2015, 2020];
const minorYearsC = [2002.5, 2007.5, 2012.5, 2017.5, 2022.5];
const ticksY_A = [-1, -0.5, 0, 0.5, 1];
const minorY_A = [-0.75, -0.25, 0.25, 0.75];
const ticksY_B = [-0.05, 0, 0.05, 0.1];
const minorY_B = [-0.075, -0.025, 0.025, 0.075];
const ticksY_C = [-0.2, -0.1, 0, 0.1, 0.2];
const minorY_C = [-0.15, -0.05, 0.05, 0.15];
const ticksY_D = [0, 0.01, 0.02];
const minorY_D = [-0.005, 0.005, 0.015, 0.025];
const quantileLabels = ["90%", "75%", "median", "25%", "10%"];
const legendTitle = "estimation_type";
const legendLabels = ["fixed effects", "pooled"];
const titles = ["Distribution of fixed effects (1Y samples)", "Adjusted R\u2212squared",
                "Distribution of fixed effects (5Y samples)", "Adjusted R\u2212squared"];

// ---------------- DRAWING ----------------
const FONT = "'Liberation Sans', Arial, Helvetica, sans-serif";
const BLUE = "#269ADC", GREY = "#999999", RED = "#FF6464";
const svg = d3.select("body").append("svg").attr("width", 1183).attr("height", 869)
  .style("display", "block").style("background", "#ffffff");

function styleAxis(a) {
  a.attr("font-family", FONT).attr("font-size", 21);
  a.select(".domain").remove();
  a.selectAll(".tick line").attr("stroke", "#B3B3B3").attr("stroke-width", 1.1);
  a.selectAll(".tick text").attr("fill", "#4D4D4D");
}

function drawPanel(p) {
  const [L, R, T, B] = p.box;
  const g = svg.append("g");
  const x = d3.scaleLinear().domain(p.xLim).range([L, R]);
  const y = d3.scaleLinear().domain(p.yLim).range([B, T]);
  const grid = g.append("g");
  p.xMinor.forEach(v => grid.append("line").attr("x1", x(v)).attr("x2", x(v)).attr("y1", T).attr("y2", B)
    .attr("stroke", "#EBEBEB").attr("stroke-width", 0.9));
  p.yMinor.forEach(v => grid.append("line").attr("x1", L).attr("x2", R).attr("y1", y(v)).attr("y2", y(v))
    .attr("stroke", "#EBEBEB").attr("stroke-width", 0.9));
  p.xTicks.forEach(v => grid.append("line").attr("x1", x(v)).attr("x2", x(v)).attr("y1", T).attr("y2", B)
    .attr("stroke", "#DEDEDE").attr("stroke-width", 1.1));
  p.yTicks.forEach(v => grid.append("line").attr("x1", L).attr("x2", R).attr("y1", y(v)).attr("y2", y(v))
    .attr("stroke", "#DEDEDE").attr("stroke-width", 1.1));

  const line = d3.line().x(d => x(d[0])).y(d => y(d[1]));
  p.series.forEach(s => {
    g.append("path").datum(s.data).attr("d", line).attr("fill", "none")
      .attr("stroke", s.color).attr("stroke-width", s.width || 2)
      .attr("stroke-dasharray", s.dash || null).attr("stroke-linejoin", "round");
  });

  g.append("rect").attr("x", L).attr("y", T).attr("width", R - L).attr("height", B - T)
    .attr("fill", "none").attr("stroke", "#B3B3B3").attr("stroke-width", 1.1);

  const ax = g.append("g").attr("transform", `translate(0,${B})`)
    .call(d3.axisBottom(x).tickValues(p.xTicks).tickSize(5).tickPadding(10).tickFormat(d3.format("d")));
  styleAxis(ax);
  const ay = g.append("g").attr("transform", `translate(${L},0)`)
    .call(d3.axisLeft(y).tickValues(p.yTicks).tickSize(5).tickPadding(5).tickFormat(d3.format(p.yFmt)));
  styleAxis(ay);

  g.append("text").attr("x", L).attr("y", p.titleY).text(p.title)
    .attr("font-family", FONT).attr("font-weight", "bold").attr("font-size", 29.5).attr("fill", "#000");

  if (p.labels) {
    p.labels.forEach((lab, i) => {
      const s = p.series[i];
      const last = s.data[s.data.length - 1];
      const nudge = p.labelNudge ? p.labelNudge[i] : 0;
      if (lab === "median") {
        const cx = x(p.medianX), cy = y(last[1]) + nudge;
        g.append("text").attr("transform", `translate(${cx},${cy}) rotate(-90)`)
          .attr("text-anchor", "middle").attr("dy", "0.36em").text(lab)
          .attr("font-family", FONT).attr("font-size", 22).attr("fill", GREY);
      } else {
        g.append("text").attr("x", x(p.labelX)).attr("y", y(last[1]) + nudge).attr("dy", "0.36em")
          .text(lab).attr("font-family", FONT).attr("font-size", 22).attr("fill", s.color);
      }
    });
  }
  return { x, y };
}

function drawLegend(bgTop, titleCenter) {
  const g = svg.append("g");
  const k1 = titleCenter + 36.7, k2 = k1 + 36.6;
  g.append("rect").attr("x", 1008).attr("y", bgTop).attr("width", 175).attr("height", k2 + 29 - bgTop).attr("fill", "#ffffff");
  g.append("text").attr("x", 1018).attr("y", titleCenter).attr("dy", "0.35em").text(legendTitle)
    .attr("font-family", FONT).attr("font-weight", "bold").attr("font-size", 19).attr("fill", "#000");
  [[k1, "#000000"], [k2, RED]].forEach(([ky, c], i) => {
    g.append("line").attr("x1", 1023).attr("x2", 1052).attr("y1", ky).attr("y2", ky)
      .attr("stroke", c).attr("stroke-width", 2.4);
    g.append("text").attr("x", 1065).attr("y", ky).attr("dy", "0.35em").text(legendLabels[i])
      .attr("font-family", FONT).attr("font-size", 21).attr("fill", "#000");
  });
}

// Panel A
drawPanel({
  box: [60, 644, 49.7, 386.7], xLim: [1994.46, 2024.05], yLim: [-1.128, 1.086],
  xTicks: ticksYearsA, xMinor: minorYearsA, yTicks: ticksY_A, yMinor: minorY_A, yFmt: ".1f",
  title: titles[0], titleY: 32,
  series: [
    { data: fe1y_q90, color: BLUE },
    { data: fe1y_q75, color: "#000000", dash: "7,6" },
    { data: fe1y_med, color: GREY },
    { data: fe1y_q25, color: "#000000", dash: "7,6" },
    { data: fe1y_q10, color: BLUE }
  ],
  labels: quantileLabels, labelX: 2021.61, medianX: 2022.47, labelNudge: [0, 0, 0, -2, -3]
});

// Panel B
drawPanel({
  box: [731.7, 1170, 49.7, 386.7], xLim: [1994.49, 2022.33], yLim: [-0.0869, 0.104],
  xTicks: ticksYearsA, xMinor: minorYearsA, yTicks: ticksY_B, yMinor: minorY_B, yFmt: ".2f",
  title: titles[1], titleY: 32,
  series: [
    { data: r2_1y_fixed, color: "#000000" },
    { data: r2_1y_pooled, color: RED }
  ]
});
drawLegend(34, 45);

// Panel C
drawPanel({
  box: [60, 650.7, 497.5, 836], xLim: [1998.65, 2023.84], yLim: [-0.2505, 0.2253],
  xTicks: ticksYearsC, xMinor: minorYearsC, yTicks: ticksY_C, yMinor: minorY_C, yFmt: ".1f",
  title: titles[2], titleY: 480,
  series: [
    { data: fe5y_q90, color: BLUE },
    { data: fe5y_q75, color: "#000000", dash: "7,6" },
    { data: fe5y_med, color: GREY },
    { data: fe5y_q25, color: "#000000", dash: "7,6" },
    { data: fe5y_q10, color: BLUE }
  ],
  labels: quantileLabels, labelX: 2021.75, medianX: 2022.45, labelNudge: [-2, -5, 2, 7, 0]
});

// Panel D
drawPanel({
  box: [726.7, 1170, 497.5, 836], xLim: [1998.71, 2022.05], yLim: [-0.00825, 0.02755],
  xTicks: ticksYearsC, xMinor: minorYearsC, yTicks: ticksY_D, yMinor: minorY_D, yFmt: ".2f",
  title: titles[3], titleY: 480,
  series: [
    { data: r2_5y_fixed, color: "#000000" },
    { data: r2_5y_pooled, color: RED }
  ]
});
drawLegend(484, 495);
</script>
</body>
</html>
